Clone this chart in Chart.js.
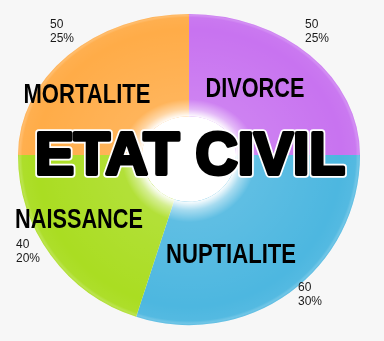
<!DOCTYPE html>
<html>
<head>
<meta charset="utf-8">
<script src="https://cdn.jsdelivr.net/npm/chart.js@4"></script>
<style>
    html, body { margin: 0; padding: 0; background: #f7f7f7; }
    #wrap { width: 384px; height: 341px; }
</style>
</head>
<body>
<div id="wrap"><canvas id="chart"></canvas></div>
<script>
(() => {
    const categories = ["DIVORCE", "NUPTIALITE", "NAISSANCE", "MORTALITE"];
    const values = [50, 60, 40, 50];
    const colors = ["#c873f0", "#4db7e0", "#aadd22", "#ffac48"];
    const title = "ETAT CIVIL";

    // label placement: [centre x, baseline y, width] for names, [left x, baseline y] for values
    const namePlaces = [[255, 97, 99], [231, 263, 130], [79, 228, 128], [87, 103, 127]];
    const valuePlaces = [[305, 28], [298, 291], [16, 248], [50, 28]];

    // the disc looks tilted: top half is flatter than the bottom half
    const topSquash = 0.825;
    const bottomSquash = 0.995;

    const total = values.reduce((a, b) => a + b, 0);

    const drawHalf = (chart, meta, y0, y1, squash) => {
        const ctx = chart.ctx;
        const arc = meta.data[0];
        const cx = arc.x;
        const cy = arc.y;
        const r = arc.outerRadius;
        const ri = arc.innerRadius;

        ctx.save();
        ctx.beginPath();
        ctx.rect(0, y0, chart.width, y1 - y0);
        ctx.clip();
        ctx.translate(cx, cy);
        ctx.scale(1, squash);
        ctx.translate(-cx, -cy);

        ctx.fillStyle = "#ffffff";
        ctx.beginPath();
        ctx.arc(cx, cy, ri + 1, 0, Math.PI * 2);
        ctx.fill();

        meta.controller.draw();

        // soft white glow round the hole and a light rim at the edge
        const glow = ctx.createRadialGradient(cx, cy, ri, cx, cy, r);
        const k = ri / r;
        glow.addColorStop(0, "rgba(255,255,255,0.97)");
        glow.addColorStop(k * 0.25, "rgba(255,255,255,0.5)");
        glow.addColorStop(k * 0.6, "rgba(255,255,255,0.1)");
        glow.addColorStop(0.85, "rgba(255,255,255,0)");
        glow.addColorStop(0.965, "rgba(255,255,255,0.04)");
        glow.addColorStop(0.985, "rgba(255,255,255,0.2)");
        glow.addColorStop(1, "rgba(255,255,255,0.1)");
        ctx.fillStyle = glow;
        ctx.beginPath();
        ctx.arc(cx, cy, r, 0, Math.PI * 2);
        ctx.arc(cx, cy, ri, 0, Math.PI * 2, true);
        ctx.fill();
        ctx.restore();
    };

    const tiltPlugin = {
        id: "tilt",
        beforeDatasetsDraw(chart) {
            const meta = chart.getDatasetMeta(0);
            const cy = meta.data[0].y;
            drawHalf(chart, meta, 0, cy, topSquash);
            drawHalf(chart, meta, cy, chart.height, bottomSquash);
            return false;
        }
    };

    const fitText = (ctx, text, cx, y, width) => {
        const w = ctx.measureText(text).width;
        ctx.save();
        ctx.translate(cx, y);
        ctx.scale(width / w, 1);
        ctx.fillText(text, -w / 2, 0);
        ctx.restore();
    };

    const labelPlugin = {
        id: "labels",
        afterDraw(chart) {
            const ctx = chart.ctx;
            ctx.save();
            ctx.textBaseline = "alphabetic";
            ctx.fillStyle = "#000000";

            ctx.font = "bold 27px 'Liberation Sans', Arial, sans-serif";
            categories.forEach((name, i) => {
                const [x, y, w] = namePlaces[i];
                fitText(ctx, name, x, y, w);
            });

            ctx.font = "12px 'Liberation Sans', Arial, sans-serif";
            ctx.fillStyle = "#1a1a1a";
            values.forEach((v, i) => {
                const [x, y] = valuePlaces[i];
                ctx.fillText(String(v), x, y);
                ctx.fillText(Math.round(v / total * 100) + "%", x, y + 14);
            });

            // big title with a thin white outline
            ctx.font = "bold 60px 'Liberation Sans', Arial, sans-serif";
            const tw = ctx.measureText(title).width;
            ctx.translate(190, 174);
            ctx.scale(310 / tw, 1);
            ctx.lineJoin = "round";
            ctx.strokeStyle = "#ffffff";
            ctx.lineWidth = 7.5;
            ctx.strokeText(title, -tw / 2, 0);
            ctx.fillStyle = "#000000";
            ctx.strokeStyle = "#000000";
            ctx.lineWidth = 4;
            ctx.fillText(title, -tw / 2, 0);
            ctx.strokeText(title, -tw / 2, 0);
            ctx.restore();
        }
    };

    new Chart(document.getElementById("chart"), {
        type: "doughnut",
        data: {
            labels: categories,
            datasets: [
                {
                    data: values,
                    backgroundColor: colors,
                    borderWidth: 0,
                    radius: 171,
                    cutout: "27.5%"
                }
            ]
        },
        options: {
            responsive: true,
            maintainAspectRatio: false,
            animation: false,
            layout: {
                padding: { left: 18, right: 24, top: 0, bottom: 31 }
            },
            plugins: {
                legend: { display: false },
                tooltip: { enabled: false }
            }
        },
        plugins: [tiltPlugin, labelPlugin]
    });
})();
</script>
</body>
</html>
